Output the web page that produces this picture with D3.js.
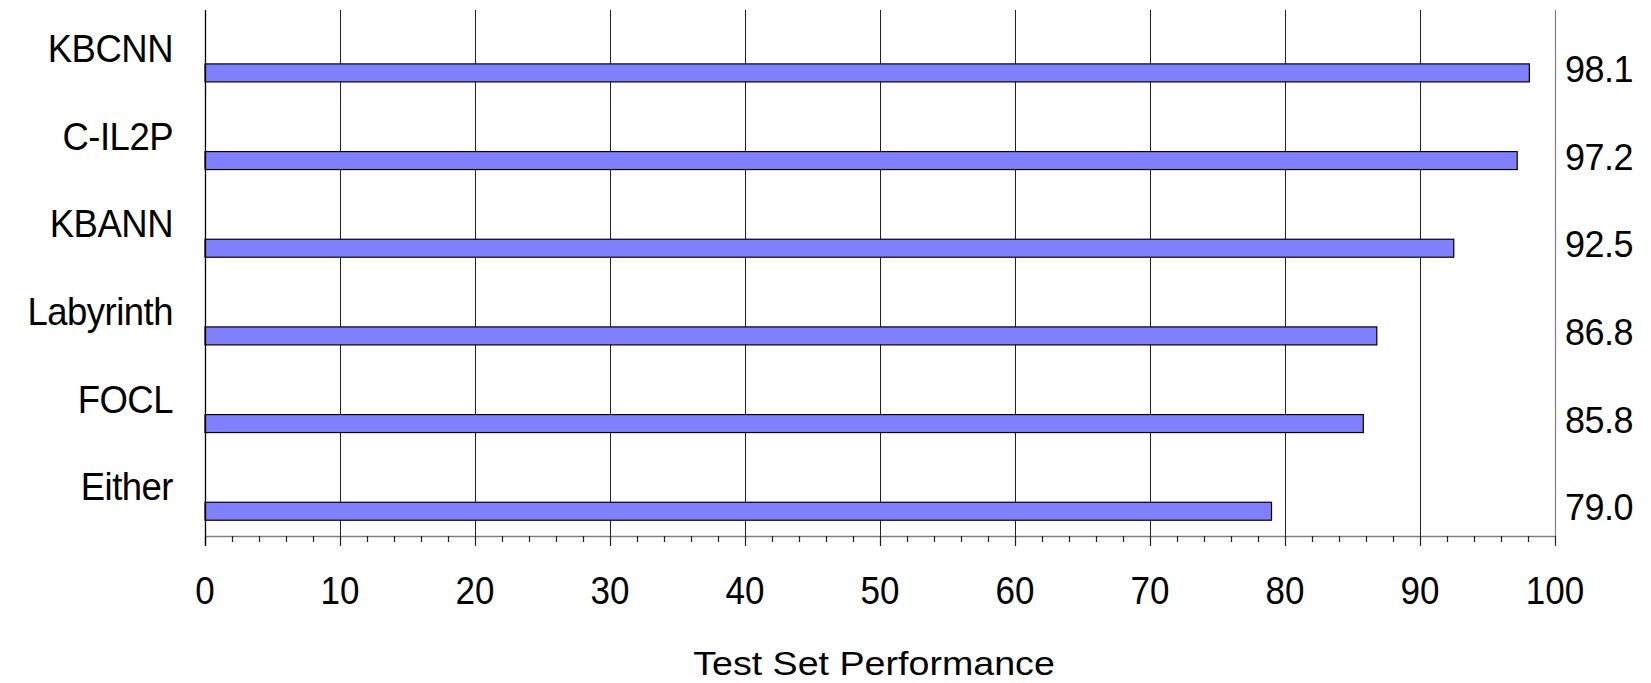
<!DOCTYPE html>
<html>
<head>
<meta charset="utf-8">
<script src="https://cdn.jsdelivr.net/npm/d3@7/dist/d3.min.js"></script>
<style>
  html, body { margin: 0; padding: 0; background: #fff; }
  svg { display: block; }
  text { font-family: "Liberation Sans", Arial, sans-serif; fill: #000; }
</style>
</head>
<body>
<svg id="chart" width="1651" height="683"></svg>
<script>
const categories = ["KBCNN", "C-IL2P", "KBANN", "Labyrinth", "FOCL", "Either"];
const values = [98.1, 97.2, 92.5, 86.8, 85.8, 79.0];
const valueLabels = ["98.1", "97.2", "92.5", "86.8", "85.8", "79.0"];
const xTicks = [0, 10, 20, 30, 40, 50, 60, 70, 80, 90, 100];
const xTitle = "Test Set Performance";

(function () {
const pLeft = 205, pRight = 1555, pTop = 10, pBottom = 536;

const svg = d3.select("#chart");

const x = d3.scaleLinear().domain([0, 100]).range([pLeft, pRight]);
const y = d3.scaleBand().domain(categories).range([pTop, pBottom]).padding(0);
const bw = y.bandwidth();

// vertical gridlines
svg.append("g").selectAll("line")
  .data(xTicks.filter(t => t > 0 && t < 100))
  .join("line")
  .attr("x1", d => Math.round(x(d)) + 0.5).attr("x2", d => Math.round(x(d)) + 0.5)
  .attr("y1", pTop).attr("y2", pBottom)
  .attr("stroke", "#222").attr("stroke-width", 1);

// right edge line
svg.append("line")
  .attr("x1", Math.round(x(100)) + 0.5).attr("x2", Math.round(x(100)) + 0.5)
  .attr("y1", pTop).attr("y2", pBottom)
  .attr("stroke", "#808080").attr("stroke-width", 1.2);

// bars
svg.append("g").selectAll("rect")
  .data(categories)
  .join("rect")
  .attr("x", x(0))
  .attr("y", d => y(d) + bw * 0.615)
  .attr("width", (d, i) => x(values[i]) - x(0))
  .attr("height", bw * 0.205)
  .attr("fill", "#8080FF")
  .attr("stroke", "#000")
  .attr("stroke-width", 1.2);

// bottom axis
const axis = d3.axisBottom(x)
  .tickValues(d3.range(0, 101, 2))
  .tickSize(0)
  .tickFormat("");
const ax = svg.append("g").attr("transform", `translate(0,${pBottom})`).call(axis);
ax.select(".domain").attr("stroke", "#808080").attr("stroke-width", 1.5);
ax.selectAll(".tick line")
  .attr("y2", d => d % 10 === 0 ? 10 : 6)
  .attr("stroke", "#222").attr("stroke-width", 1.2);

// tick labels
svg.append("g").selectAll("text")
  .data(xTicks)
  .join("text")
  .attr("transform", d => `translate(${x(d)},604) scale(1,1.1)`)
  .attr("text-anchor", "middle")
  .style("font-size", "35px")
  .text(d => d);

// left axis line
svg.append("line")
  .attr("x1", pLeft + 0.5).attr("x2", pLeft + 0.5)
  .attr("y1", pTop).attr("y2", pBottom + 10)
  .attr("stroke", "#000").attr("stroke-width", 1.3);

// category labels
svg.append("g").selectAll("text")
  .data(categories)
  .join("text")
  .attr("transform", d => `translate(173,${y(d) + 52}) scale(1,1.05)`)
  .attr("text-anchor", "end")
  .style("font-size", "36.5px")
  .style("letter-spacing", "-0.5px")
  .text(d => d);

// value labels on right
svg.append("g").selectAll("text")
  .data(categories)
  .join("text")
  .attr("transform", d => `translate(1599,${y(d) + bw * 0.7175 + 9}) scale(1,1.04)`)
  .attr("text-anchor", "middle")
  .style("font-size", "36px")
  .style("letter-spacing", "-0.5px")
  .text((d, i) => valueLabels[i]);

// x title
svg.append("text")
  .attr("transform", "translate(874,675) scale(1.14,1)")
  .attr("text-anchor", "middle")
  .style("font-size", "33px")
  .text(xTitle);
})();
</script>
</body>
</html>
